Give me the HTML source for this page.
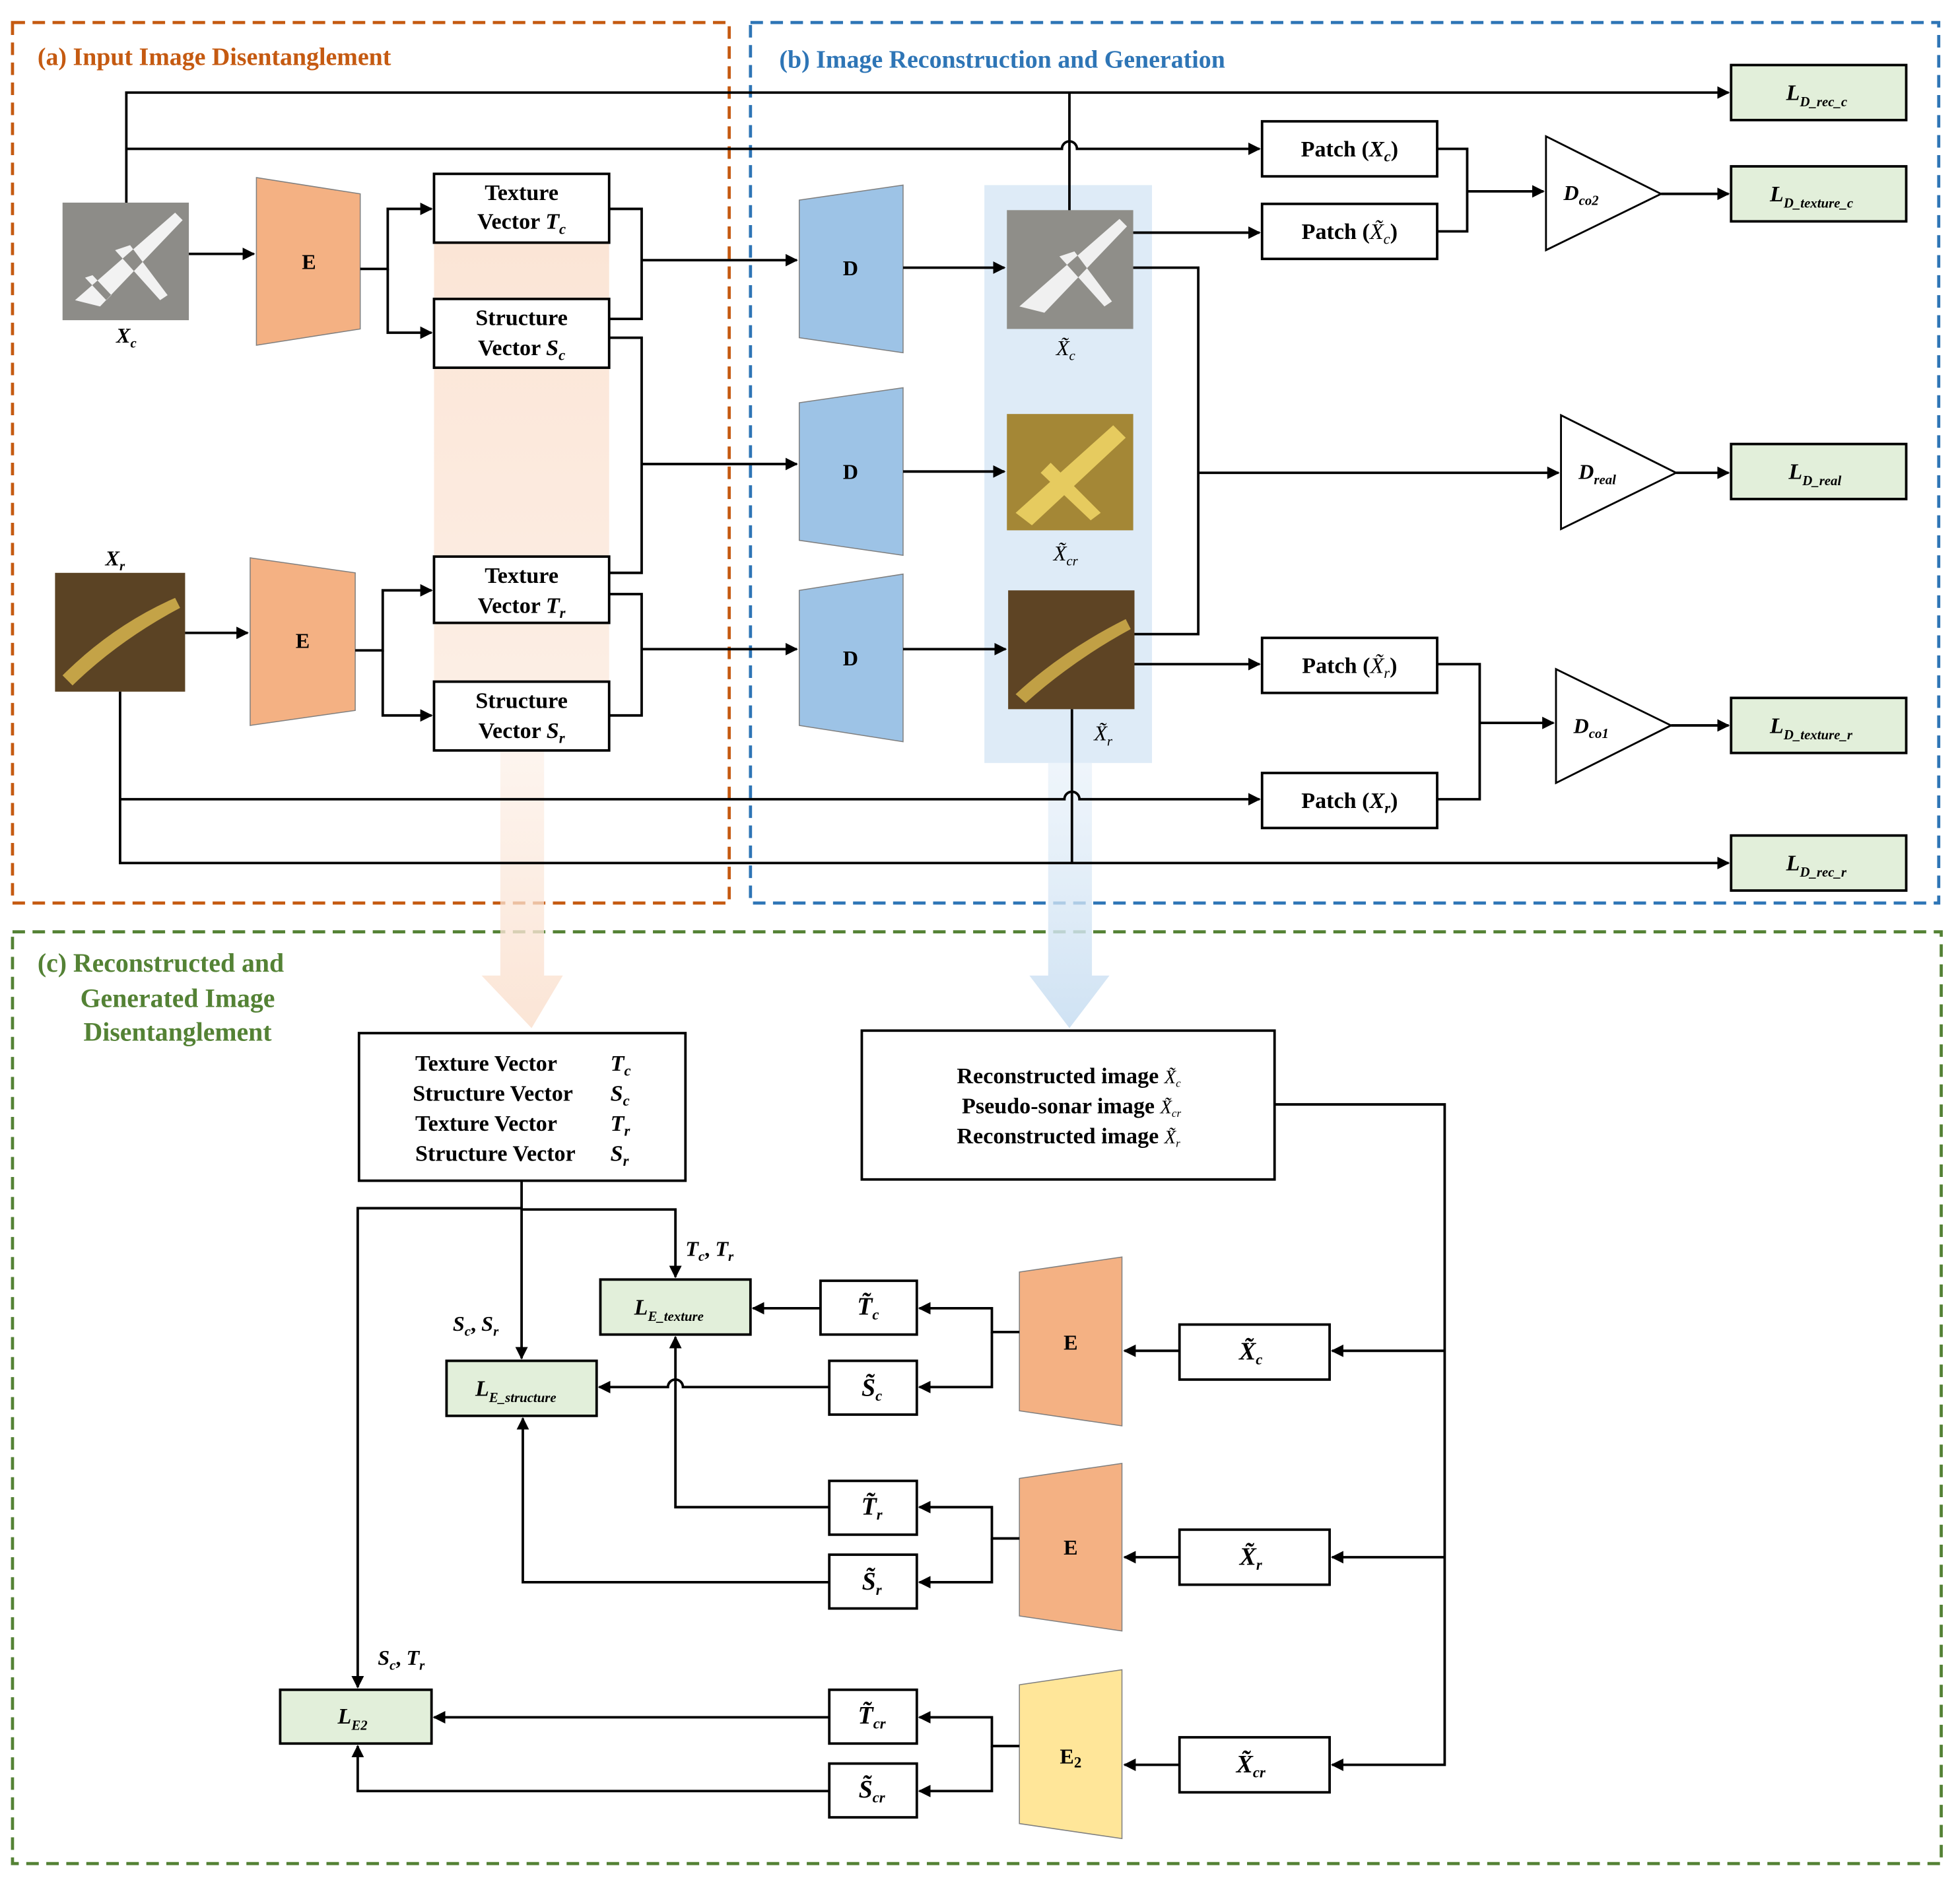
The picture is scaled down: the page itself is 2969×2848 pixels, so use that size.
<!DOCTYPE html>
<html><head><meta charset="utf-8"><style>
html,body{margin:0;padding:0;background:#fff}
svg{display:block}
text{font-family:"Liberation Serif",serif;font-weight:bold;fill:#000}
</style></head><body>
<svg width="2969" height="2848" viewBox="0 0 1567 1503.1" preserveAspectRatio="none" xmlns="http://www.w3.org/2000/svg">
<defs>
<marker id="a" markerWidth="10" markerHeight="10" refX="9" refY="5" orient="auto" markerUnits="userSpaceOnUse"><path d="M0,0 L10,5 L0,10 z" fill="#000"/></marker>
<linearGradient id="og" x1="0" y1="0" x2="0" y2="1"><stop offset="0" stop-color="#fbe5d6"/><stop offset="1" stop-color="#fbe5d6" stop-opacity="0.6"/></linearGradient>
<linearGradient id="oa" x1="0" y1="0" x2="0" y2="1"><stop offset="0" stop-color="#fbe5d6" stop-opacity="0.4"/><stop offset="1" stop-color="#fbe5d6"/></linearGradient>
<linearGradient id="ba" x1="0" y1="0" x2="0" y2="1"><stop offset="0" stop-color="#deebf7" stop-opacity="0.5"/><stop offset="1" stop-color="#cfe2f3"/></linearGradient>
</defs>
<rect x="10" y="18" width="573" height="704" fill="none" stroke="#c55a11" stroke-width="2.5" stroke-dasharray="10,6"/>
<rect x="600" y="18" width="950" height="704" fill="none" stroke="#2e75b6" stroke-width="2.5" stroke-dasharray="10,6"/>
<rect x="10" y="745" width="1542" height="745" fill="none" stroke="#548235" stroke-width="2.5" stroke-dasharray="10,6"/>
<text x="30" y="52" font-size="20" style="fill:#c55a11">(a) Input Image Disentanglement</text>
<text x="623" y="54" font-size="20" style="fill:#2e75b6">(b) Image Reconstruction and Generation</text>
<text x="30" y="777" font-size="21" style="fill:#548235">(c) Reconstructed and</text>
<text x="142" y="805" font-size="21" text-anchor="middle" style="fill:#548235">Generated Image</text>
<text x="142" y="832" font-size="21" text-anchor="middle" style="fill:#548235">Disentanglement</text>
<rect x="347" y="195" width="140" height="405" fill="url(#og)"/>
<path d="M400,600 H435 V780 H450 L425,822 L385,780 H400 Z" fill="url(#oa)"/>
<rect x="787" y="148" width="134" height="462" fill="#deebf7"/>
<path d="M838,610 H873 V780 H887 L855,822 L823,780 H838 Z" fill="url(#ba)"/>
<rect x="50" y="162" width="101" height="94" fill="#8d8c88"/>
<path d="M60,240 L140,170 L146,176 L80,245 Z M92,200 L128,240 L134,236 L104,196 Z M68,222 L85,240 L89,236 L74,220Z" fill="#f2f2f2"/>
<rect x="44" y="458" width="104" height="95" fill="#5b4324"/>
<path d="M50,540 Q90,500 140,478 L144,486 Q95,512 58,548 Z" fill="#c4a347"/>
<rect x="805" y="168" width="101" height="95" fill="#8f8e89"/>
<path d="M815,245 L895,175 L901,181 L835,250 Z M847,205 L883,245 L889,241 L859,201 Z" fill="#f0f0f0"/>
<rect x="805" y="331" width="101" height="93" fill="#a48736"/>
<path d="M812,410 L890,340 L900,350 L825,420 Z M840,370 L880,410 L872,416 L832,378Z" fill="#e6cb5f"/>
<rect x="806" y="472" width="101" height="95" fill="#5e4424"/>
<path d="M812,555 Q850,520 900,495 L904,503 Q858,528 820,562 Z" fill="#c1a045"/>
<text x="101" y="274" font-size="17" font-style="italic" text-anchor="middle">X<tspan font-size="11" dy="4">c</tspan></text>
<text x="92" y="452" font-size="17" font-style="italic" text-anchor="middle">X<tspan font-size="11" dy="4">r</tspan></text>
<text x="852" y="284" font-size="17" font-style="italic" font-weight="normal" text-anchor="middle" style="font-weight:normal">X̃<tspan font-size="11" dy="4">c</tspan></text>
<text x="852" y="448" font-size="17" font-style="italic" text-anchor="middle" style="font-weight:normal">X̃<tspan font-size="11" dy="4">cr</tspan></text>
<text x="882" y="592" font-size="17" font-style="italic" text-anchor="middle" style="font-weight:normal">X̃<tspan font-size="11" dy="4">r</tspan></text>
<g stroke="#7f7f7f" stroke-width="0.8">
<path d="M205,142 L288,155 L288,263 L205,276Z" fill="#f4b183"/>
<path d="M200,446 L284,458 L284,568 L200,580Z" fill="#f4b183"/>
<path d="M639,160 L722,148 L722,282 L639,270Z" fill="#9dc3e6"/>
<path d="M639,322 L722,310 L722,444 L639,432Z" fill="#9dc3e6"/>
<path d="M639,472 L722,459 L722,593 L639,580Z" fill="#9dc3e6"/>
<path d="M815,1017 L897,1005 L897,1140 L815,1128Z" fill="#f4b183"/>
<path d="M815,1182 L897,1170 L897,1304 L815,1292Z" fill="#f4b183"/>
<path d="M815,1347 L897,1335 L897,1470 L815,1458Z" fill="#ffe699"/>
</g>
<g font-size="17" text-anchor="middle">
<text x="247" y="215">E</text><text x="242" y="518">E</text>
<text x="680" y="220">D</text><text x="680" y="383">D</text><text x="680" y="532">D</text>
<text x="856" y="1079">E</text><text x="856" y="1243">E</text><text x="856" y="1410">E<tspan font-size="12" dy="3">2</tspan></text>
</g>
<g fill="#fff" stroke="#000" stroke-width="2">
<rect x="347" y="139" width="140" height="55" fill="none"/><rect x="347" y="239" width="140" height="55"/>
<rect x="347" y="445" width="140" height="53"/><rect x="347" y="545" width="140" height="55"/>
<rect x="1009" y="97" width="140" height="44"/><rect x="1009" y="163" width="140" height="44"/>
<rect x="1009" y="510" width="140" height="44"/><rect x="1009" y="618" width="140" height="44"/>
<rect x="287" y="826" width="261" height="118"/><rect x="689" y="824" width="330" height="119"/>
<rect x="943" y="1059" width="120" height="44"/><rect x="943" y="1223" width="120" height="44"/><rect x="943" y="1389" width="120" height="44"/>
<rect x="656" y="1024" width="77" height="43"/><rect x="663" y="1088" width="70" height="43"/>
<rect x="663" y="1184" width="70" height="43"/><rect x="663" y="1243" width="70" height="43"/>
<rect x="663" y="1351" width="70" height="43"/><rect x="663" y="1410" width="70" height="43"/>
</g>
<g fill="#e2efda" stroke="#000" stroke-width="2">
<rect x="1384" y="52" width="140" height="44"/><rect x="1384" y="133" width="140" height="44"/>
<rect x="1384" y="355" width="140" height="44"/><rect x="1384" y="558" width="140" height="44"/>
<rect x="1384" y="668" width="140" height="44"/>
<rect x="480" y="1023" width="120" height="44"/><rect x="357" y="1088" width="120" height="44"/>
<rect x="224" y="1351" width="121" height="43"/>
</g>
<g fill="#fff" stroke="#000" stroke-width="1.5">
<path d="M1236,109 L1328,155 L1236,200Z"/><path d="M1248,332 L1340,378 L1248,423Z"/><path d="M1244,535 L1336,580 L1244,626Z"/>
</g>
<g font-size="18" text-anchor="middle">
<text x="417" y="160">Texture</text><text x="417" y="183">Vector <tspan font-style="italic">T<tspan font-size="12" dy="4">c</tspan></tspan></text>
<text x="417" y="260">Structure</text><text x="417" y="284">Vector  <tspan font-style="italic">S<tspan font-size="12" dy="4">c</tspan></tspan></text>
<text x="417" y="466">Texture</text><text x="417" y="490">Vector  <tspan font-style="italic">T<tspan font-size="12" dy="4">r</tspan></tspan></text>
<text x="417" y="566">Structure</text><text x="417" y="590">Vector <tspan font-style="italic">S<tspan font-size="12" dy="4">r</tspan></tspan></text>
<text x="1079" y="125">Patch (<tspan font-style="italic">X<tspan font-size="12" dy="4">c</tspan></tspan><tspan dy="-4">)</tspan></text>
<text x="1079" y="191">Patch (<tspan font-style="italic" style="font-weight:normal">X̃<tspan font-size="12" dy="4">c</tspan></tspan><tspan dy="-4">)</tspan></text>
<text x="1079" y="538">Patch (<tspan font-style="italic" style="font-weight:normal">X̃<tspan font-size="12" dy="4">r</tspan></tspan><tspan dy="-4">)</tspan></text>
<text x="1079" y="646">Patch (<tspan font-style="italic">X<tspan font-size="12" dy="4">r</tspan></tspan><tspan dy="-4">)</tspan></text>
</g>
<g font-size="18" font-style="italic">
<text x="1428" y="80">L<tspan font-size="11" dy="5">D_rec_c</tspan></text>
<text x="1415" y="161">L<tspan font-size="11" dy="5">D_texture_c</tspan></text>
<text x="1430" y="383">L<tspan font-size="11" dy="5">D_real</tspan></text>
<text x="1415" y="586">L<tspan font-size="11" dy="5">D_texture_r</tspan></text>
<text x="1428" y="696">L<tspan font-size="11" dy="5">D_rec_r</tspan></text>
<text x="507" y="1051">L<tspan font-size="11" dy="5">E_texture</tspan></text>
<text x="380" y="1116">L<tspan font-size="11" dy="5">E_structure</tspan></text>
<text x="270" y="1378">L<tspan font-size="11" dy="5">E2</tspan></text>
</g>
<g font-size="17" font-style="italic" style="font-weight:normal">
<text x="1250" y="160">D<tspan font-size="11" dy="4">co2</tspan></text>
<text x="1262" y="383">D<tspan font-size="11" dy="4">real</tspan></text>
<text x="1258" y="586">D<tspan font-size="11" dy="4">co1</tspan></text>
</g>
<g font-size="18">
<text x="332" y="856">Texture Vector</text><text x="488" y="856" font-style="italic">T<tspan font-size="12" dy="4">c</tspan></text>
<text x="330" y="880">Structure Vector</text><text x="488" y="880" font-style="italic">S<tspan font-size="12" dy="4">c</tspan></text>
<text x="332" y="904">Texture Vector</text><text x="488" y="904" font-style="italic">T<tspan font-size="12" dy="4">r</tspan></text>
<text x="332" y="928">Structure Vector</text><text x="488" y="928" font-style="italic">S<tspan font-size="12" dy="4">r</tspan></text>
<text x="765" y="866">Reconstructed image <tspan font-style="italic" style="font-weight:normal" font-size="15">X̃<tspan font-size="9" dy="3">c</tspan></tspan></text>
<text x="769" y="890">Pseudo-sonar image <tspan font-style="italic" style="font-weight:normal" font-size="15">X̃<tspan font-size="9" dy="3">cr</tspan></tspan></text>
<text x="765" y="914">Reconstructed image <tspan font-style="italic" style="font-weight:normal" font-size="15">X̃<tspan font-size="9" dy="3">r</tspan></tspan></text>
</g>
<g font-size="20" font-style="italic" text-anchor="middle" style="font-weight:normal">
<text x="1000" y="1087">X̃<tspan font-size="12" dy="4">c</tspan></text>
<text x="1000" y="1251">X̃<tspan font-size="12" dy="4">r</tspan></text>
<text x="1000" y="1417">X̃<tspan font-size="12" dy="4">cr</tspan></text>
<text x="694" y="1051">T̃<tspan font-size="12" dy="4">c</tspan></text>
<text x="697" y="1116">S̃<tspan font-size="12" dy="4">c</tspan></text>
<text x="697" y="1211">T̃<tspan font-size="12" dy="4">r</tspan></text>
<text x="697" y="1271">S̃<tspan font-size="12" dy="4">r</tspan></text>
<text x="697" y="1378">T̃<tspan font-size="12" dy="4">cr</tspan></text>
<text x="697" y="1437">S̃<tspan font-size="12" dy="4">cr</tspan></text>
</g>
<g font-size="17" font-style="italic">
<text x="548" y="1004">T<tspan font-size="11" dy="4">c</tspan><tspan dy="-4" font-style="normal">, </tspan>T<tspan font-size="11" dy="4">r</tspan></text>
<text x="362" y="1064">S<tspan font-size="11" dy="4">c</tspan><tspan dy="-4" font-style="normal">, </tspan>S<tspan font-size="11" dy="4">r</tspan></text>
<text x="302" y="1331">S<tspan font-size="11" dy="4">c</tspan><tspan dy="-4" font-style="normal">, </tspan>T<tspan font-size="11" dy="4">r</tspan></text>
</g>
<g fill="none" stroke="#000" stroke-width="2">
<path d="M288,215 H310 V167 H345" marker-end="url(#a)"/><path d="M310,215 V266 H345" marker-end="url(#a)"/>
<path d="M284,520 H306 V472 H345" marker-end="url(#a)"/><path d="M306,520 V572 H345" marker-end="url(#a)"/>
<path d="M148,506 H198" marker-end="url(#a)"/><path d="M151,203 H203" marker-end="url(#a)"/>
<path d="M487,167 H513 V255 H487"/><path d="M513,208 H637" marker-end="url(#a)"/>
<path d="M487,270 H513 V458 H487"/><path d="M513,371 H637" marker-end="url(#a)"/>
<path d="M487,475 H513 V572 H487"/><path d="M513,519 H637" marker-end="url(#a)"/>
<path d="M722,214 H803" marker-end="url(#a)"/><path d="M722,377 H803" marker-end="url(#a)"/><path d="M722,519 H804" marker-end="url(#a)"/>
<path d="M101,162 V74 H1382" marker-end="url(#a)"/>
<path d="M101,119 H849 A6,6 0 0 1 861,119 H1007" marker-end="url(#a)"/>
<path d="M855,168 V74"/>
<path d="M906,186 H1007" marker-end="url(#a)"/>
<path d="M1149,119 H1173 V185 H1149"/><path d="M1173,153 H1234" marker-end="url(#a)"/>
<path d="M1328,155 H1382" marker-end="url(#a)"/>
<path d="M906,214 H958 V507 H907"/><path d="M958,378 H1246" marker-end="url(#a)"/>
<path d="M1340,378 H1382" marker-end="url(#a)"/>
<path d="M907,531 H1007" marker-end="url(#a)"/>
<path d="M1149,531 H1183 V639 H1149"/><path d="M1183,578 H1242" marker-end="url(#a)"/>
<path d="M1336,580 H1382" marker-end="url(#a)"/>
<path d="M96,553 V690 H1382" marker-end="url(#a)"/>
<path d="M96,639 H851 A6,6 0 0 1 863,639 H1007" marker-end="url(#a)"/>
<path d="M857,567 V690"/>
<path d="M1019,883 H1155 V1411 H1065" marker-end="url(#a)"/>
<path d="M1155,1080 H1065" marker-end="url(#a)"/><path d="M1155,1245 H1065" marker-end="url(#a)"/>
<path d="M943,1080 H899" marker-end="url(#a)"/><path d="M943,1245 H899" marker-end="url(#a)"/><path d="M943,1411 H899" marker-end="url(#a)"/>
<path d="M815,1065 H793 V1046 H735" marker-end="url(#a)"/><path d="M793,1065 V1109 H735" marker-end="url(#a)"/>
<path d="M815,1230 H793 V1205 H735" marker-end="url(#a)"/><path d="M793,1230 V1265 H735" marker-end="url(#a)"/>
<path d="M815,1396 H793 V1373 H735" marker-end="url(#a)"/><path d="M793,1396 V1432 H735" marker-end="url(#a)"/>
<path d="M656,1046 H602" marker-end="url(#a)"/>
<path d="M663,1109 H546 A6,6 0 0 0 534,1109 H479" marker-end="url(#a)"/>
<path d="M663,1205 H540 V1069" marker-end="url(#a)"/>
<path d="M663,1265 H418 V1134" marker-end="url(#a)"/>
<path d="M663,1373 H347" marker-end="url(#a)"/>
<path d="M663,1432 H286 V1396" marker-end="url(#a)"/>
<path d="M417,944 V1086" marker-end="url(#a)"/>
<path d="M417,967 H540 V1021" marker-end="url(#a)"/>
<path d="M417,966 H286 V1349" marker-end="url(#a)"/>
</g>
</svg>
</body></html>
